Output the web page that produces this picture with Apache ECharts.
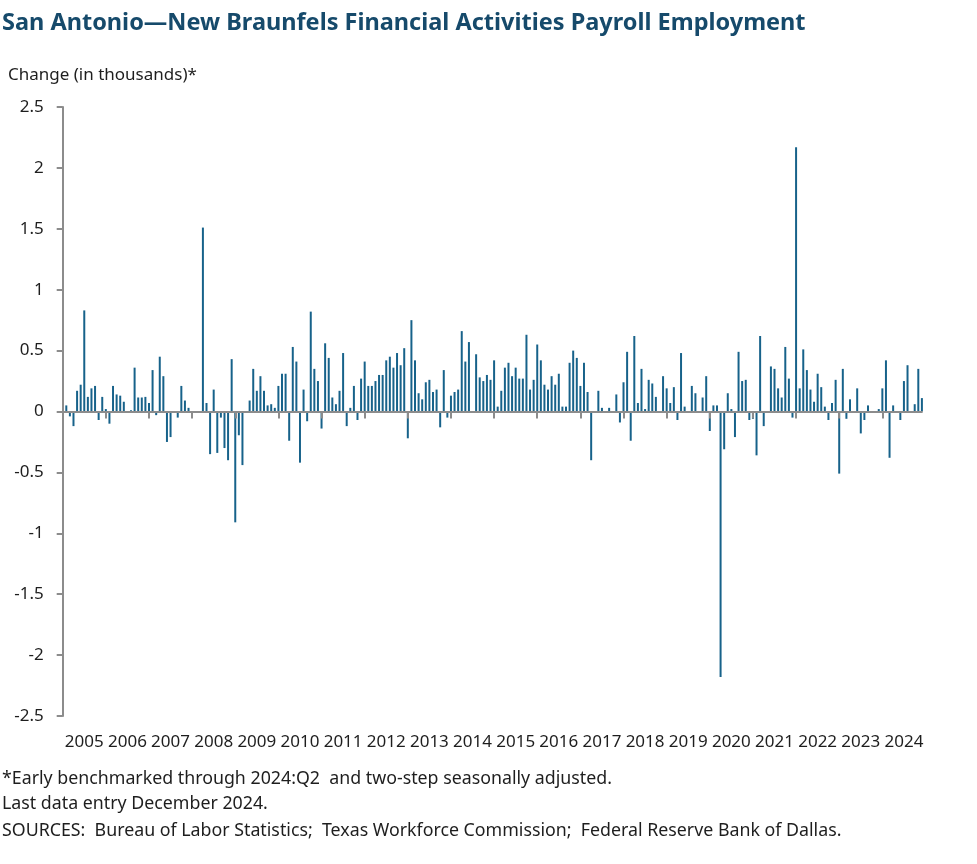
<!DOCTYPE html>
<html><head><meta charset="utf-8">
<script src="https://cdn.jsdelivr.net/npm/echarts@6/dist/echarts.min.js"></script>
<style>html,body{margin:0;padding:0;background:#fff}#c{width:977px;height:864px}</style>
</head><body><div id="c"></div>
<script>
// Monthly change, thousands (Jan..Dec per year)
const y2005 = [null, 0.05, -0.04, -0.12, 0.17, 0.22, 0.83, 0.12, 0.19, 0.21, -0.07, 0.12];
const y2006 = [0.02, -0.10, 0.21, 0.14, 0.13, 0.08, 0, 0.01, 0.36, 0.115, 0.115, 0.12];
const y2007 = [0.07, 0.34, -0.03, 0.45, 0.29, -0.25, -0.21, 0, -0.05, 0.21, 0.09, 0.03];
const y2008 = [0, 0, 0, 1.51, 0.07, -0.35, 0.18, -0.34, -0.05, -0.30, -0.40, 0.43];
const y2009 = [-0.91, -0.195, -0.44, 0, 0.09, 0.35, 0.17, 0.29, 0.17, 0.05, 0.06, 0.03];
const y2010 = [0.21, 0.31, 0.31, -0.24, 0.53, 0.41, -0.42, 0.18, -0.08, 0.82, 0.35, 0.25];
const y2011 = [-0.14, 0.56, 0.44, 0.115, 0.06, 0.17, 0.48, -0.12, 0.03, 0.21, -0.07, 0.27];
const y2012 = [0.41, 0.21, 0.21, 0.25, 0.30, 0.30, 0.42, 0.45, 0.36, 0.48, 0.38, 0.52];
const y2013 = [-0.22, 0.75, 0.42, 0.15, 0.10, 0.24, 0.26, 0.16, 0.18, -0.13, 0.34, -0.05];
const y2014 = [0.13, 0.16, 0.18, 0.66, 0.41, 0.57, 0, 0.47, 0.28, 0.25, 0.30, 0.26];
const y2015 = [0.42, 0.04, 0.17, 0.36, 0.40, 0.29, 0.36, 0.27, 0.27, 0.63, 0.18, 0.26];
const y2016 = [0.55, 0.42, 0.22, 0.18, 0.29, 0.22, 0.31, 0.04, 0.04, 0.40, 0.50, 0.44];
const y2017 = [0.21, 0.40, 0.16, -0.40, 0, 0.17, 0.03, 0, 0.03, 0, 0.14, -0.09];
const y2018 = [0.24, 0.49, -0.24, 0.62, 0.07, 0.35, 0.02, 0.26, 0.23, 0.12, 0, 0.29];
const y2019 = [0.19, 0.07, 0.20, -0.07, 0.48, 0.04, 0, 0.21, 0.15, 0, 0.115, 0.29];
const y2020 = [-0.16, 0.05, 0.05, -2.18, -0.31, 0.15, 0.02, -0.21, 0.49, 0.25, 0.26, -0.07];
const y2021 = [-0.06, -0.36, 0.62, -0.12, 0, 0.37, 0.35, 0.19, 0.115, 0.53, 0.27, -0.05];
const y2022 = [2.17, 0.19, 0.51, 0.34, 0.18, 0.08, 0.31, 0.20, 0.04, -0.07, 0.07, 0.26];
const y2023 = [-0.51, 0.35, -0.06, 0.10, 0, 0.19, -0.18, -0.07, 0.05, 0, 0, 0.02];
const y2024 = [0.19, 0.42, -0.38, 0.05, 0, -0.07, 0.25, 0.38, 0, 0.06, 0.35, 0.11];

const years = [2005,2006,2007,2008,2009,2010,2011,2012,2013,2014,2015,2016,2017,2018,2019,2020,2021,2022,2023,2024];
const yearValues = [y2005,y2006,y2007,y2008,y2009,y2010,y2011,y2012,y2013,y2014,y2015,y2016,y2017,y2018,y2019,y2020,y2021,y2022,y2023,y2024];
const yTicks = { min: -2.5, max: 2.5, step: 0.5 };

const titleText = 'San Antonio\u2014New Braunfels Financial Activities Payroll Employment';
const axisTitle = 'Change (in thousands)*';
const notes = [
  '*Early benchmarked through 2024:Q2  and two-step seasonally adjusted.',
  'Last data entry December 2024.',
  'SOURCES:  Bureau of Labor Statistics;  Texas Workforce Commission;  Federal Reserve Bank of Dallas.'
];

const months = [];
const values = [];
years.forEach((y, i) => {
  for (let m = 0; m < 12; m++) {
    months.push(y + '-' + String(m + 1).padStart(2, '0'));
    values.push(yearValues[i][m]);
  }
});

const FONT = 'Noto Sans';
const axisGray = '#8c8c8c';
const textColor = '#1e1e1e';
const note = (text, top) => ({ text, left: 2, top, padding: 0, textStyle: { fontFamily: FONT, fontSize: 17.8, fontWeight: 'normal', color: textColor } });
const chart = echarts.init(document.getElementById('c'), null, { renderer: 'canvas' });
chart.setOption({
  backgroundColor: '#ffffff',
  animation: false,
  textStyle: { fontFamily: FONT },
  title: [
    { text: titleText, left: 2, top: 11, padding: 0, textStyle: { fontFamily: FONT, fontSize: 23.5, fontWeight: 'bold', color: '#164a6b' } },
    { text: axisTitle, left: 8, top: 67, padding: 0, textStyle: { fontFamily: FONT, fontSize: 17, fontWeight: 'normal', color: textColor } },
    note(notes[0], 770),
    note(notes[1], 795),
    note(notes[2], 822)
  ],
  grid: { left: 62.7, right: 55.1, top: 107, bottom: 148, containLabel: false },
  xAxis: [
    {
      type: 'category', data: months, boundaryGap: false, position: 'bottom', z: 5,
      axisLine: { show: true, onZero: true, lineStyle: { color: axisGray, width: 2 } },
      axisTick: { show: true, interval: (i) => i % 12 === 0, length: 7, lineStyle: { color: axisGray, width: 2 } },
      axisLabel: { show: false },
      splitLine: { show: false }
    },
    {
      type: 'category', data: months, boundaryGap: false, position: 'bottom',
      axisLine: { show: false, onZero: false },
      axisTick: { show: false },
      axisLabel: { show: true, interval: (i) => i % 12 === 6, formatter: (v) => v.slice(0, 4), margin: 18, fontSize: 17, color: textColor, fontFamily: FONT },
      splitLine: { show: false }
    }
  ],
  yAxis: {
    type: 'value', min: yTicks.min, max: yTicks.max, interval: yTicks.step,
    axisLine: { show: true, onZero: false, lineStyle: { color: axisGray, width: 2 } },
    axisTick: { show: true, length: 6, lineStyle: { color: axisGray, width: 2 } },
    axisLabel: { fontSize: 17, color: textColor, margin: 19, fontFamily: FONT },
    splitLine: { show: false }
  },
  series: [{
    type: 'bar', xAxisIndex: 0, data: values, barWidth: 2,
    itemStyle: { color: '#17628a' }
  }]
});
</script>
</body></html>
